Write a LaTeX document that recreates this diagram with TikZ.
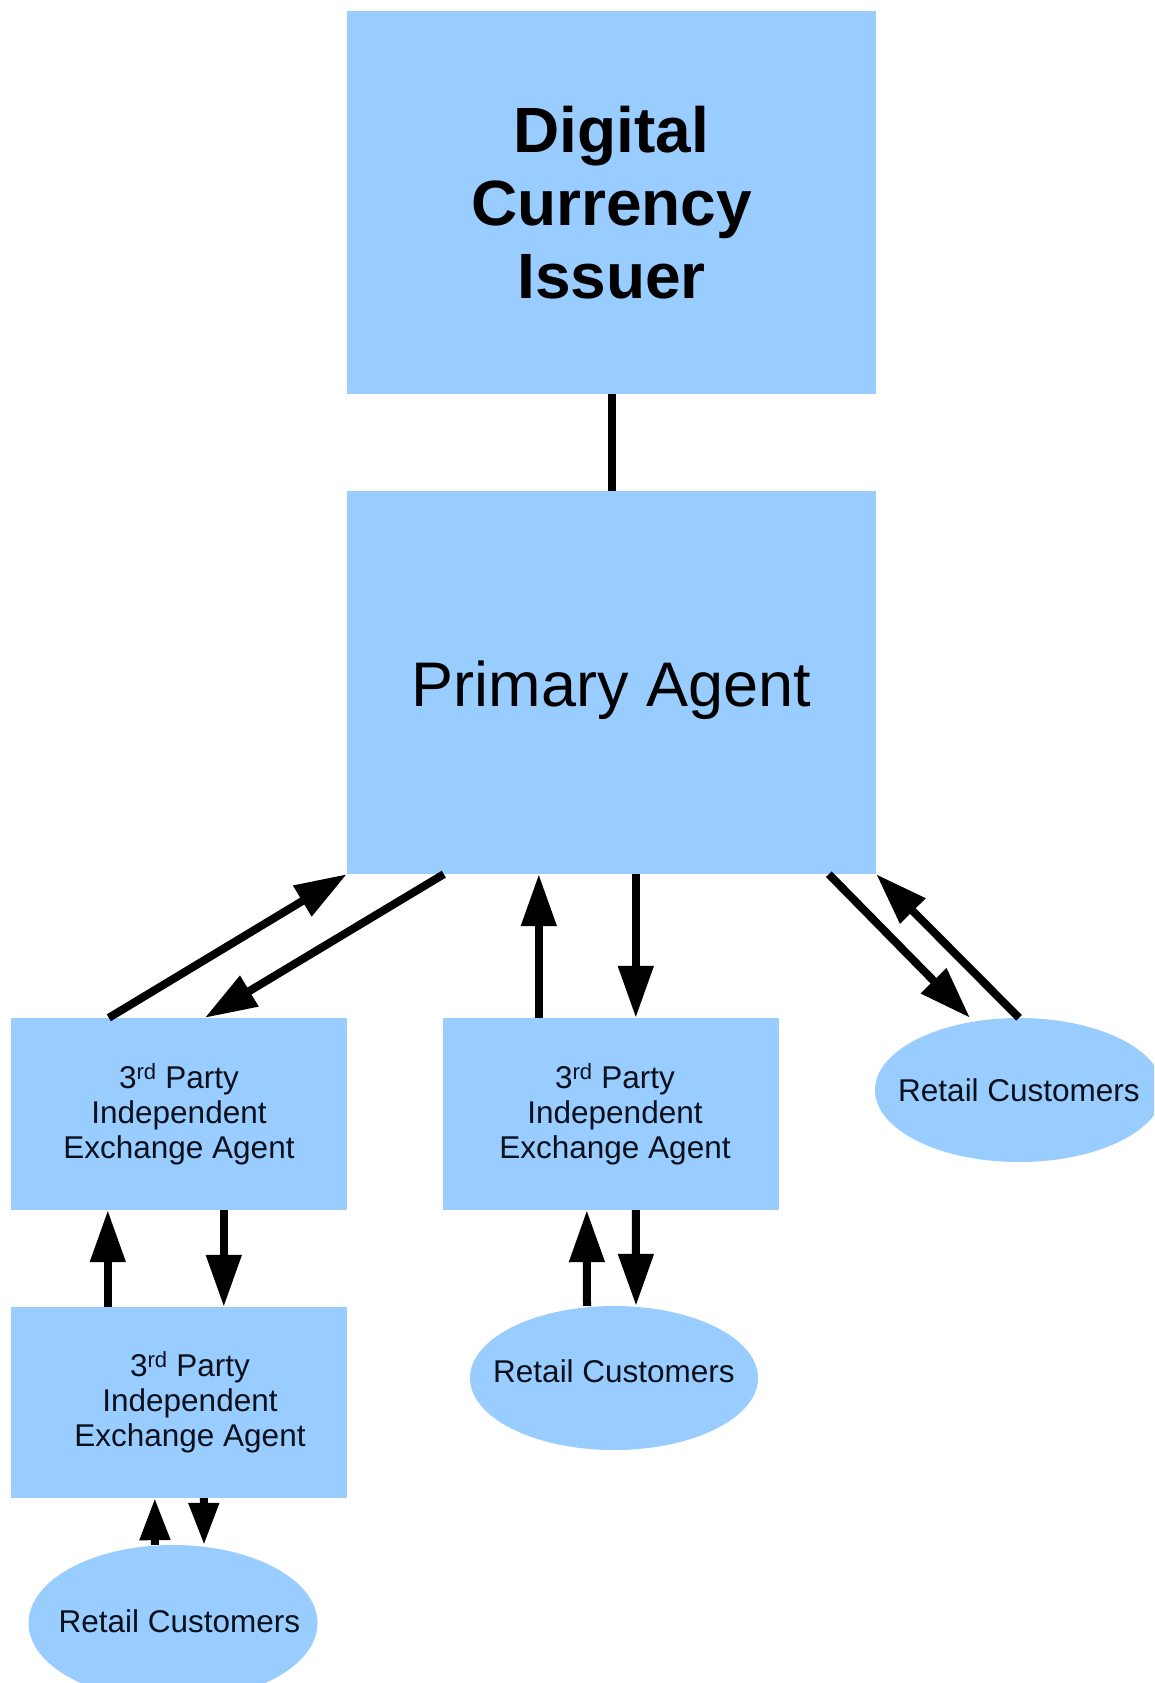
\documentclass[tikz,border=0pt]{standalone}
\usepackage{fontspec}
\setmainfont{Liberation Sans}
\usetikzlibrary{arrows.meta,shapes.geometric,calc}
\definecolor{boxblue}{RGB}{153,204,255}
\definecolor{txt}{RGB}{10,16,28}
\newcommand{\zw}[1]{\makebox[0pt]{\smash{#1}}}
\tikzset{
  box/.style={rectangle,fill=boxblue,inner sep=0pt,align=center,text=txt},
  ell/.style={ellipse,fill=boxblue,inner sep=0pt,align=center,text=txt},
  small/.style={font=\fontsize{31.5}{35}\selectfont},
  flow/.style={line width=8pt,-{Triangle[length=52pt,width=34pt]}},
  flowsm/.style={line width=8pt,-{Triangle[length=42pt,width=29pt]}},
  link/.style={line width=8pt}
}
\begin{document}
\begin{tikzpicture}[x=1pt,y=-1pt]
\useasboundingbox (0,0) rectangle (1154,1683);
\clip (0,0) rectangle (1154,1683);
\fill[white] (0,0) rectangle (1154,1683);

\node[box,minimum width=529pt,minimum height=383pt,text=black,
      font=\fontsize{64}{73}\selectfont\bfseries] (iss) at (611.5,202.5)
      {Digital\\Currency\\Issuer};
\node[box,minimum width=529pt,minimum height=383pt,text=black,
      font=\fontsize{63}{70}\selectfont] (pa) at (611.5,682.5)
      {\raisebox{-8pt}[\height][\depth]{Primary Agent}};

\node[box,small,minimum width=336pt,minimum height=192pt] (ex1) at (179,1114)
      {3\textsuperscript{rd} Party\\Independent\\Exchange Agent};
\node[box,small,minimum width=336pt,minimum height=192pt] (ex2) at (611,1114)
      {\hspace*{8pt}3\textsuperscript{rd} Party\\\hspace*{8pt}Independent\\\hspace*{8pt}Exchange Agent};
\node[box,small,minimum width=336pt,minimum height=191pt] (ex3) at (179,1402.5)
      {\hspace*{22pt}3\textsuperscript{rd} Party\\\hspace*{22pt}Independent\\\hspace*{22pt}Exchange Agent};

\node[ell,small,minimum width=288pt,minimum height=144pt] (rc1) at (1019,1090)
      {\zw{\raisebox{-11pt}{Retail Customers}}};
\node[ell,small,minimum width=288pt,minimum height=144pt] (rc2) at (614,1378)
      {\zw{\raisebox{-4pt}{Retail Customers}}};
\node[ell,small,minimum width=289pt,minimum height=156pt] (rc3) at (173,1623)
      {\zw{\hspace*{13pt}\raisebox{-9pt}{Retail Customers}}};

% issuer - primary
\draw[link] (iss.south) -- (pa.north);

% primary <-> left exchange
\draw[flow] ($(ex1.north west)+(98,0)$) -- (pa.south west);
\draw[flow] ($(pa.south west)+(97,0)$) -- ($(ex1.north west)+(194,0)$);

% primary <-> middle exchange
\draw[flow] ($(ex2.north west)+(96,0)$) -- ($(pa.south west)+(192,0)$);
\draw[flow] ($(pa.south west)+(289,0)$) -- ($(ex2.north west)+(193,0)$);

% primary <-> right customers
\draw[flow] ($(pa.south west)+(482,0)$) -- ($(rc1.north)+(-49,0)$);
\draw[flow] (rc1.north) -- (pa.south east);

% left exchange <-> lower exchange
\draw[flow] ($(ex3.north west)+(97,0)$) -- ($(ex1.south west)+(97,0)$);
\draw[flow] ($(ex1.south west)+(213,0)$) -- ($(ex3.north west)+(213,0)$);

% middle exchange <-> customers
\draw[flow] ($(rc2.north)+(-27,0)$) -- ($(ex2.south west)+(144,0)$);
\draw[flow] ($(ex2.south west)+(193,0)$) -- ($(rc2.north)+(22,0)$);

% lower exchange <-> customers
\draw[flowsm] ($(rc3.north)+(-18,0)$) -- ($(ex3.south west)+(144,0)$);
\draw[flowsm] ($(ex3.south west)+(193,0)$) -- ($(rc3.north)+(31,0)$);
\end{tikzpicture}
\end{document}
